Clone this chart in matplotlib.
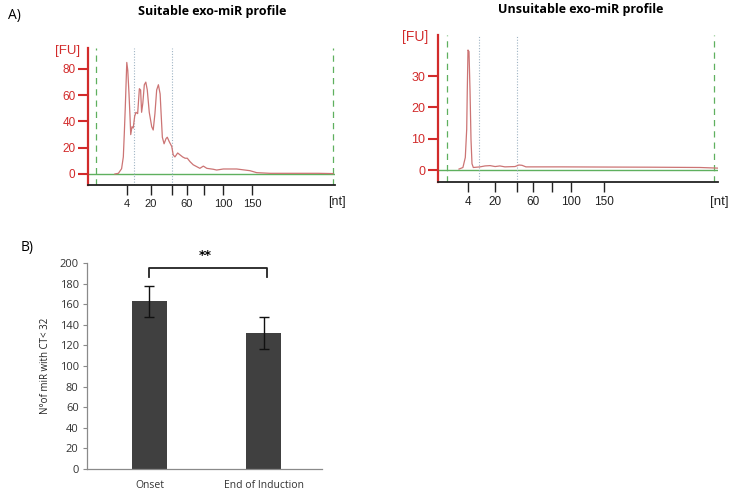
import matplotlib
matplotlib.use("Agg")
import matplotlib.pyplot as plt

# ---------------- data ----------------
# Panel A left: "Suitable" electropherogram (migration time a.u., FU)
suit_t = [10.9, 12.3, 13.6, 14.3, 14.7, 15.1, 15.7, 16.1, 16.6, 17.0, 17.3, 17.8, 18.3,
          18.9, 19.4, 20.1, 20.8, 21.3, 21.7, 22.2, 22.8, 23.4, 24.0, 24.8, 25.8, 26.4,
          27.1, 27.8, 28.5, 29.2, 29.6, 30.1, 30.8, 31.6, 32.1, 32.9, 33.9, 34.5, 35.2,
          36.3, 37.3, 38.3, 39.3, 40.2, 41.3, 42.6, 44.0, 45.3, 46.7, 48.1, 50.7, 52.1,
          54.8, 60.2, 65.6, 68.3, 73.7, 85.8, 93.1, 99.2]
suit_fu = [0, 0.5, 4, 13, 31, 51, 85, 79, 61, 44, 30, 36, 35,
           44, 47, 46, 65, 64, 47, 54, 68, 70, 64, 47, 36, 33.5,
           46, 64, 68, 61, 46, 28, 23, 27, 28, 24.6, 21, 14.5, 13,
           16, 14.5, 13, 12, 12, 9.4, 7, 5.6, 4.3, 6, 4.3, 3.6, 3,
           3.8, 3.8, 2.5, 1, 0.5, 0.5, 0.5, 0.3]
suit_tick_pos = [15.8, 25.5, 34.0, 40.1, 47.0, 54.7, 66.4]
suit_tick_lab = ["4", "20", "", "60", "", "100", "150"]
suit_dashed = [3.2, 99.2]
suit_dotted = [18.6, 34.0]
suit_yticks = [0, 20, 40, 60, 80]

# Panel A right: "Unsuitable" electropherogram
uns_t = [7.5, 8.9, 9.75, 10.25, 10.46, 10.71, 11.07, 11.43, 11.79, 12.14, 12.61, 15.0,
         16.8, 18.6, 20.4, 22.1, 23.9, 27.5, 28.9, 30.0, 31.4, 43.6, 57.9, 75.7, 93.6, 100]
uns_fu = [0.3, 0.8, 4, 13, 25.5, 38.3, 37.8, 25.5, 9.6, 2, 0.8, 1.0,
          1.3, 1.4, 1.1, 1.3, 1.0, 1.1, 1.6, 1.5, 1.0, 1.0, 0.95, 0.9, 0.8, 0.6]
uns_tick_pos = [10.7, 20.4, 28.2, 33.9, 40.7, 47.5, 59.3]
uns_tick_lab = ["4", "20", "", "60", "", "100", "150"]
uns_dashed = [3.2, 98.6]
uns_dotted = [14.6, 28.2]
uns_yticks = [0, 10, 20, 30]

# Panel B: bar chart
categories = ["Onset", "End of Induction"]
values = [163, 132]
errors = [15, 15.5]
bar_yticks = list(range(0, 201, 20))

# ---------------- figure ----------------
W, H = 734, 493
fig = plt.figure(figsize=(W / 100, H / 100), dpi=100)

def ax_px(x0, y0, x1, y1):
    return fig.add_axes([x0 / W, 1 - y1 / H, (x1 - x0) / W, (y1 - y0) / H])

AXRED = "#d22b2b"
TRACE = "#cc7474"
GREEN = "#5fb05f"
DOT = "#9fb4c4"
EFONT = "Liberation Sans"

def electro(ax, t, fu, ylim, yticks, xt, xl, dashed, dotted, xfs, yfs):
    ax.set_xlim(0, 100)
    ax.set_ylim(*ylim)
    ax.axhline(0, color=GREEN, lw=1.0, zorder=1)
    for d in dashed:
        ax.axvline(d, color=GREEN, lw=0.9, ls=(0, (5, 4)), zorder=1)
    for d in dotted:
        ax.axvline(d, color=DOT, lw=0.8, ls=(0, (1, 1.5)), zorder=1)
    ax.plot(t, fu, color=TRACE, lw=0.9, zorder=3)
    for s in ["top", "right"]:
        ax.spines[s].set_visible(False)
    ax.spines["left"].set_color(AXRED)
    ax.spines["left"].set_linewidth(1.6)
    ax.spines["bottom"].set_color("#222222")
    ax.spines["bottom"].set_linewidth(1.3)
    ax.set_yticks(yticks)
    ax.tick_params(axis="y", colors=AXRED, length=7, width=1.5, labelsize=yfs, pad=2)
    ax.set_xticks(xt)
    ax.set_xticklabels(xl)
    ax.tick_params(axis="x", colors="#222222", length=7, width=1.0, labelsize=xfs, pad=3)
    for lab in ax.get_yticklabels():
        lab.set_color(AXRED)
        lab.set_family(EFONT)
    for lab in ax.get_xticklabels():
        lab.set_family(EFONT)

# Left electropherogram
axL = ax_px(88, 48, 335, 185)
electro(axL, suit_t, suit_fu, (-8.4, 96), suit_yticks, suit_tick_pos, suit_tick_lab,
        suit_dashed, suit_dotted, 8, 8.5)

# Right electropherogram
axR = ax_px(438, 35, 718, 182)
electro(axR, uns_t, uns_fu, (-3.83, 43.1), uns_yticks, uns_tick_pos, uns_tick_lab,
        uns_dashed, uns_dotted, 8.5, 9)

# Texts panel A
fig.text(8 / W, 1 - 15 / H, "A)", fontsize=10, va="center", ha="left", family="Open Sans")
fig.text(212 / W, 1 - 11 / H, "Suitable exo-miR profile", fontsize=9, fontweight="bold",
         ha="center", va="center", family="Open Sans")
fig.text(581 / W, 1 - 10 / H, "Unsuitable exo-miR profile", fontsize=9, fontweight="bold",
         ha="center", va="center", family="Open Sans")
fig.text(68 / W, 1 - 51 / H, "[FU]", fontsize=9.5, color=AXRED, ha="center", va="center",
         family=EFONT)
fig.text(415 / W, 1 - 37 / H, "[FU]", fontsize=10, color=AXRED, ha="center", va="center",
         family=EFONT)
fig.text(337 / W, 1 - 202 / H, "[nt]", fontsize=9, color="#222222", ha="center", va="center",
         family=EFONT)
fig.text(719 / W, 1 - 202 / H, "[nt]", fontsize=9.5, color="#222222", ha="center", va="center",
         family=EFONT)

# Panel B
axB = ax_px(87, 263.3, 322, 468.7)
x = [0, 1]
axB.bar(x, values, width=0.306, color="#404040", zorder=2)
axB.errorbar(x, values, yerr=errors, fmt="none", ecolor="#111111", elinewidth=1.0,
             capsize=3.5, capthick=1.0, zorder=3)
axB.set_xlim(-0.546, 1.507)
axB.set_ylim(0, 200)
axB.set_yticks(bar_yticks)
axB.set_xticks(x)
axB.set_xticklabels(categories)
for s in ["top", "right"]:
    axB.spines[s].set_visible(False)
for s in ["left", "bottom"]:
    axB.spines[s].set_color("#8a8a8a")
    axB.spines[s].set_linewidth(0.9)
axB.tick_params(axis="y", colors="#8a8a8a", length=3, labelsize=8, labelcolor="#333333", pad=3)
axB.tick_params(axis="x", length=0, labelsize=7.5, labelcolor="#333333", pad=8)
for lab in axB.get_xticklabels() + axB.get_yticklabels():
    lab.set_family("Open Sans")
axB.set_ylabel("N°of miR with CT< 32", fontsize=7, color="#222222", family="Open Sans", labelpad=6)
# significance bracket
axB.plot([0, 0, 1.03, 1.03], [187, 195.7, 195.7, 187], color="#222222", lw=1.3,
         clip_on=False, zorder=4)
axB.text(0.49, 208, "**", ha="center", va="center", fontsize=9, fontweight="bold",
         clip_on=False)
fig.text(27 / W, 1 - 247 / H, "B)", fontsize=10, va="center", ha="center", family="Open Sans")

fig.savefig("out.png", dpi=100)
